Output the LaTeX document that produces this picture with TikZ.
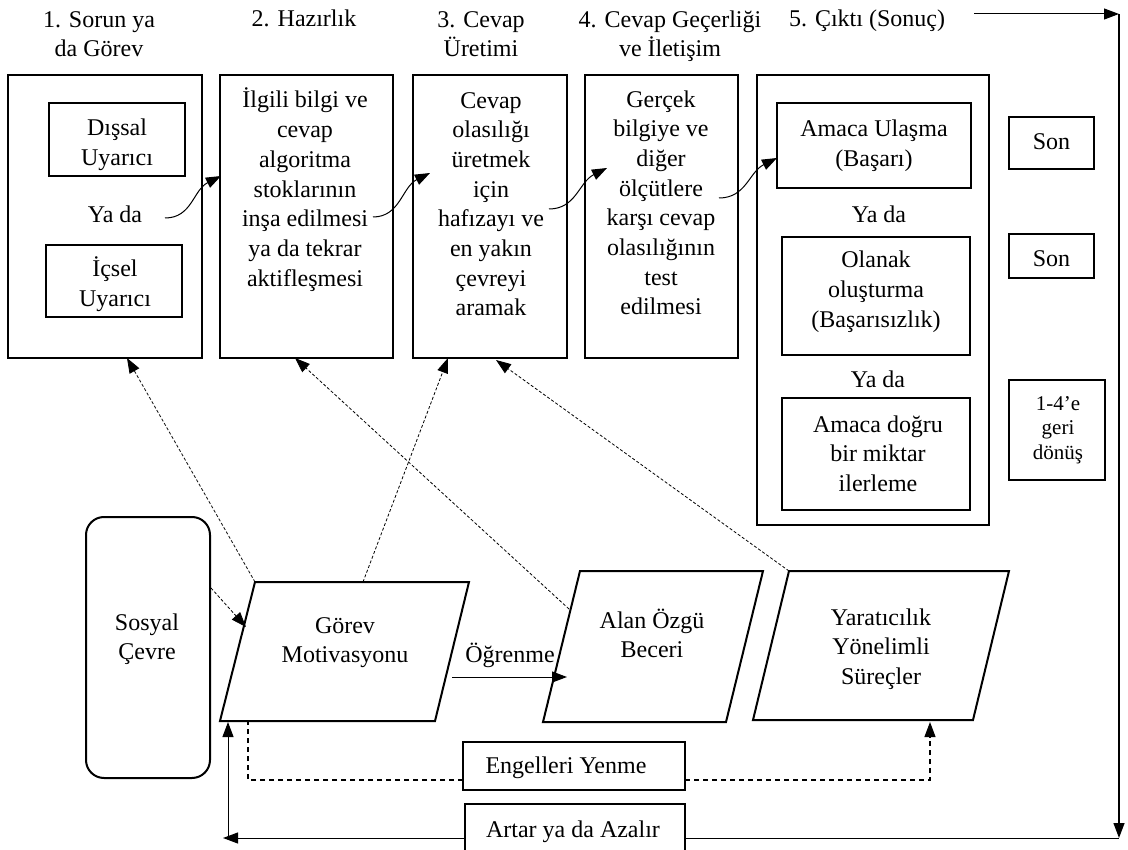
\documentclass[tikz,border=0pt]{standalone}
\usepackage{fontspec}
\setmainfont{Liberation Serif}
\usetikzlibrary{arrows.meta}
\begin{document}
\begin{tikzpicture}[x=1pt,y=-1pt,
 every node/.style={inner sep=0pt, outer sep=0pt},
 txt/.style={font=\fontsize{24}{29.7}\selectfont, align=center, anchor=base},
 box/.style={draw, line width=1.5pt},
 para/.style={draw, line width=2pt, line join=miter},
 tip/.style={-{Triangle[length=15pt,width=11pt]}},
 dl/.style={tip, dash pattern=on 3pt off 2pt, line width=0.8pt},
 el/.style={dash pattern=on 5pt off 4pt, line width=1.1pt},
 sl/.style={line width=1pt},
 curv/.style={tip, line width=1pt}]
\useasboundingbox (0,0) rectangle (1128,850);
\clip (0,0) rectangle (1128,850);
% main boxes
\node[box, minimum width=194pt, minimum height=283pt] (b1) at (105,216.5) {};
\node[box, minimum width=173pt, minimum height=283pt] (b2) at (306.5,216.5) {};
\node[box, minimum width=154pt, minimum height=283pt] (b3) at (490,216.5) {};
\node[box, minimum width=153pt, minimum height=283pt] (b4) at (661.5,216.5) {};
\node[box, minimum width=232pt, minimum height=450pt] (b5) at (873,300) {};
% inner boxes
\node[box, minimum width=136pt, minimum height=73pt] (dis) at (117,139.5) {};
\node[box, minimum width=136pt, minimum height=72pt] (ics) at (114,281) {};
\node[box, minimum width=194pt, minimum height=85pt] (ama) at (874,145.5) {};
\node[box, minimum width=188pt, minimum height=118pt] (ola) at (876,296) {};
\node[box, minimum width=188pt, minimum height=112pt] (ile) at (876,454) {};
\node[box, minimum width=85pt, minimum height=52pt] (son1) at (1051.5,143) {};
\node[box, minimum width=85pt, minimum height=44pt] (son2) at (1051.5,256) {};
\node[box, minimum width=96pt, minimum height=100pt] (geri) at (1057,430) {};
\node[draw, line width=2pt, rounded corners=18pt, minimum width=124pt, minimum height=261pt] (sos) at (148,647.5) {};
\node[box, minimum width=222pt, minimum height=48pt] (engel) at (574,766) {};
\node[box, minimum width=220pt, minimum height=54pt] (artar) at (575,831) {};
% parallelograms
\coordinate (g1) at (255,582); \coordinate (g2) at (469,582);
\coordinate (g3) at (435,721); \coordinate (g4) at (220,721);
\coordinate (a1) at (580,571); \coordinate (a2) at (763,571);
\coordinate (a3) at (726,722); \coordinate (a4) at (543,722);
\coordinate (y1) at (789,571); \coordinate (y2) at (1009,571);
\coordinate (y3) at (973,720); \coordinate (y4) at (753,720);
\draw[para] (g1) -- (g2) -- (g3) -- (g4) -- cycle;
\draw[para] (a1) -- (a2) -- (a3) -- (a4) -- cycle;
\draw[para] (y1) -- (y2) -- (y3) -- (y4) -- cycle;
% titles (anchor = baseline of last line)
\node[txt] (t1) at (99,57) {1. Sorun ya\\da Görev};
\node[txt] (t2) at (304,27) {2. Hazırlık};
\node[txt] (t3) at (481,57) {3. Cevap\\Üretimi};
\node[txt] (t4) at (670,57) {4. Cevap Geçerliği\\ve İletişim};
\node[txt] (t5) at (867,27) {5. Çıktı (Sonuç)};
% texts
\node[txt] (x1) at (117,165.7) {Dışsal\\Uyarıcı};
\node[txt] (x2) at (115,306.7) {İçsel\\Uyarıcı};
\node[txt] (yd1) at (115,223) {Ya da};
\node[txt] (x3) at (305,286.2) {İlgili bilgi ve\\cevap\\algoritma\\stoklarının\\inşa edilmesi\\ya da tekrar\\aktifleşmesi};
\node[txt] (x4) at (491,315.9) {Cevap\\olasılığı\\üretmek\\için\\hafızayı ve\\en yakın\\çevreyi\\aramak};
\node[txt] (x5) at (661,314.9) {Gerçek\\bilgiye ve\\diğer\\ölçütlere\\karşı cevap\\olasılığının\\test\\edilmesi};
\node[txt] (x6) at (874,166.7) {Amaca Ulaşma\\(Başarı)};
\node[txt] (yd2) at (879,223) {Ya da};
\node[txt] (x7) at (876,327.4) {Olanak\\oluşturma\\(Başarısızlık)};
\node[txt] (yd3) at (878,388) {Ya da};
\node[txt] (x8) at (878,491.4) {Amaca doğru\\bir miktar\\ilerleme};
\node[txt] (x9) at (1051.5,150) {Son};
\node[txt] (x10) at (1051.5,267) {Son};
\node[txt, font=\fontsize{21}{25}\selectfont] (x11) at (1058,460) {1-4’e\\geri\\dönüş};
\node[txt] (x12) at (147,659.7) {Sosyal\\Çevre};
\node[txt] (x13) at (345,662.7) {Görev\\Motivasyonu};
\node[txt] (x14) at (510,662) {Öğrenme};
\node[txt] (x15) at (652,657.7) {Alan Özgü\\Beceri};
\node[txt] (x16) at (881,684.4) {Yaratıcılık\\Yönelimli\\Süreçler};
\node[txt] (x17) at (566,773) {Engelleri Yenme};
\node[txt] (x18) at (573,837) {Artar ya da Azalır};
% curved arrows
\coordinate (c1s) at (165,218); \coordinate (c1e) at (221,176);
\coordinate (c2s) at (373,217); \coordinate (c2e) at (430,173);
\coordinate (c3s) at (549,209); \coordinate (c3e) at (607,168);
\coordinate (c4s) at (719,198); \coordinate (c4e) at (777,158);
\draw[curv] (c1s) .. controls +(27,0) and +(-28,14) .. (c1e);
\draw[curv] (c2s) .. controls +(27,0) and +(-28,14) .. (c2e);
\draw[curv] (c3s) .. controls +(27,0) and +(-28,14) .. (c3e);
\draw[curv] (c4s) .. controls +(27,0) and +(-28,14) .. (c4e);
% dashed influence arrows
\coordinate (d1e) at (127,358);
\coordinate (d2s) at (363,582); \coordinate (d2e) at (448,358);
\coordinate (d3s) at (569,609); \coordinate (d3e) at (295,358);
\coordinate (d4e) at (496,360);
\coordinate (d5s) at (211,588); \coordinate (d5e) at (246,627);
\draw[dl] (g1) -- (d1e);
\draw[dl] (d2s) -- (d2e);
\draw[dl] (d3s) -- (d3e);
\draw[dl] (y1) -- (d4e);
\draw[dl] (d5s) -- (d5e);
% learning arrow
\coordinate (o1) at (452,677); \coordinate (o2) at (567,677);
\draw[sl, tip] (o1) -- (o2);
% overcoming obstacles
\coordinate (e1) at (248,780); \coordinate (e2) at (248,722);
\coordinate (e3) at (930,780); \coordinate (e4) at (930,722);
\draw[el] (e1 -| engel.west) -- (e1) -- (e2);
\draw[el, tip] (e3 -| engel.east) -- (e3) -- (e4);
% feedback loop
\coordinate (r0) at (974,14); \coordinate (r1) at (1119,14);
\coordinate (r2) at (1119,838);
\coordinate (l1) at (223,838); \coordinate (l2) at (228,838); \coordinate (l3) at (228,722);
\draw[sl, tip] (r0) -- (r1);
\draw[line width=1.3pt, tip] (r1) -- (r2);
\draw[sl] (r2 -| artar.east) -- (r2);
\draw[sl, tip] (r2 -| artar.west) -- (l1);
\draw[sl, tip] (l2) -- (l3);
\end{tikzpicture}
\end{document}
